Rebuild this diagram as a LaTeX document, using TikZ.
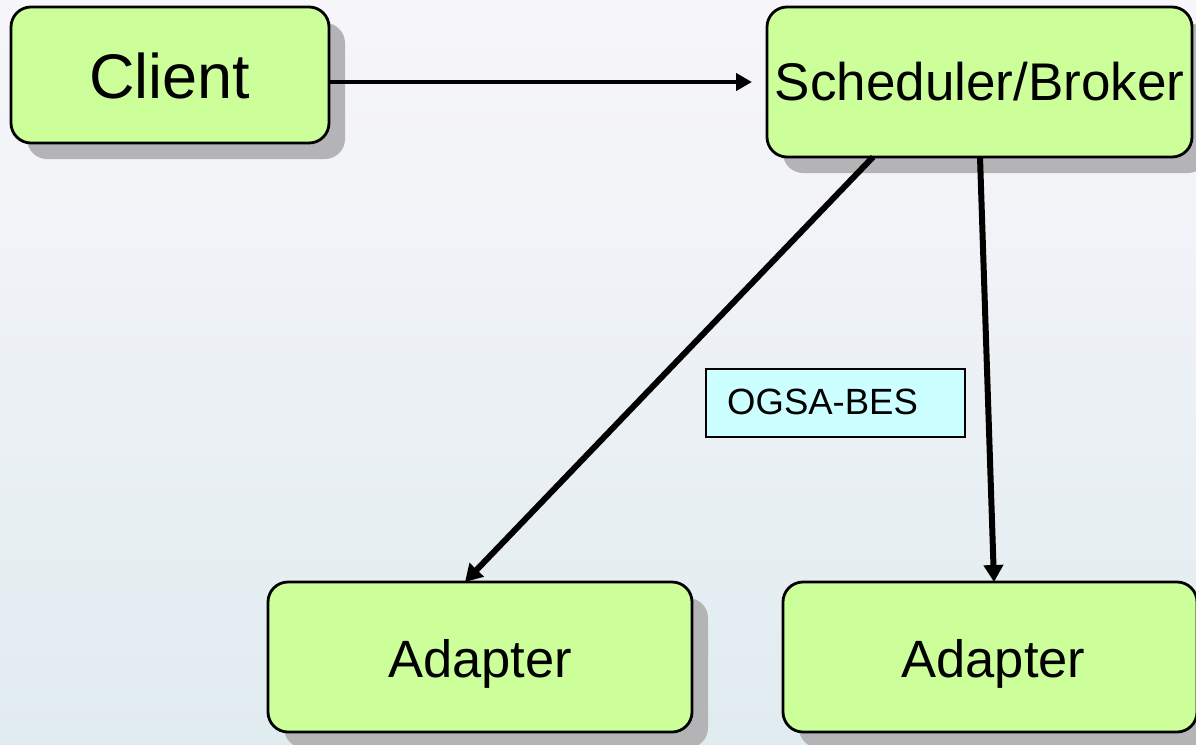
\documentclass[tikz,border=0pt]{standalone}
\usepackage{fontspec}
\setmainfont{Liberation Sans}
\usetikzlibrary{arrows.meta,shadows}
\definecolor{boxgreen}{RGB}{204,255,153}
\definecolor{tagcyan}{RGB}{204,255,255}
\definecolor{shadowgray}{RGB}{180,180,182}
\definecolor{bgtop}{RGB}{247,246,250}
\definecolor{bgmid}{RGB}{243,243,248}
\definecolor{bgbot}{RGB}{225,236,240}
\begin{document}
\begin{tikzpicture}[x=1pt,y=-1pt,
  compbox/.style={draw=black, line width=2.8pt, fill=boxgreen, rounded corners=20pt,
    inner sep=0pt, outer sep=0pt,
    drop shadow={shadow xshift=16pt, shadow yshift=-16pt, fill=shadowgray, opacity=1}},
  boxtext/.style={anchor=base, inner sep=0pt, text=black},
  tagbox/.style={draw=black, line width=2pt, fill=tagcyan, inner sep=0pt, outer sep=0pt},
  thinlink/.style={draw=black, line width=4.5pt, -{Triangle[length=16pt,width=17pt]}},
  thicklink/.style={draw=black, line width=6pt, -{Triangle[length=17pt,width=19pt]}}]

% page and soft background
\useasboundingbox (0,0) rectangle (1196,744);
\shade[top color=bgtop, middle color=bgmid, bottom color=bgbot] (0,0) rectangle (1196,744);

% components
\node[compbox, minimum width=318pt, minimum height=136pt] (client) at (170,75) {};
\node[boxtext, font=\fontsize{63}{72}\selectfont] (clienttxt) at (170,98) {Client};

\node[compbox, minimum width=425pt, minimum height=150pt] (sched) at (979.5,82) {};
\node[boxtext, font=\fontsize{53}{62}\selectfont] (schedtxt) at (979.5,100) {Scheduler/Broker};

\node[compbox, minimum width=424pt, minimum height=150pt] (adA) at (480,657) {};
\node[boxtext, font=\fontsize{52.5}{62}\selectfont] (adAtxt) at (480,677) {Adapter};

\node[compbox, minimum width=414pt, minimum height=150pt] (adB) at (990,657) {};
\node[boxtext, font=\fontsize{52.5}{62}\selectfont] (adBtxt) at (993.5,677) {Adapter};

% protocol tag
\node[tagbox, minimum width=259pt, minimum height=68pt] (bes) at (835.5,403) {};
\node[anchor=base west, inner sep=0pt, font=\fontsize{36.5}{42}\selectfont] (bestxt) at (727,414) {OGSA-BES};

% connectors
\draw[thinlink] (client.east |- sched.west) -- ([xshift=-15pt]sched.west);
\draw[thicklink] ([xshift=106pt]sched.south west) -- ([xshift=197pt]adA.north west);
\draw[thicklink] ([xshift=213pt]sched.south west) -- ([xshift=211pt]adB.north west);
\end{tikzpicture}
\end{document}
